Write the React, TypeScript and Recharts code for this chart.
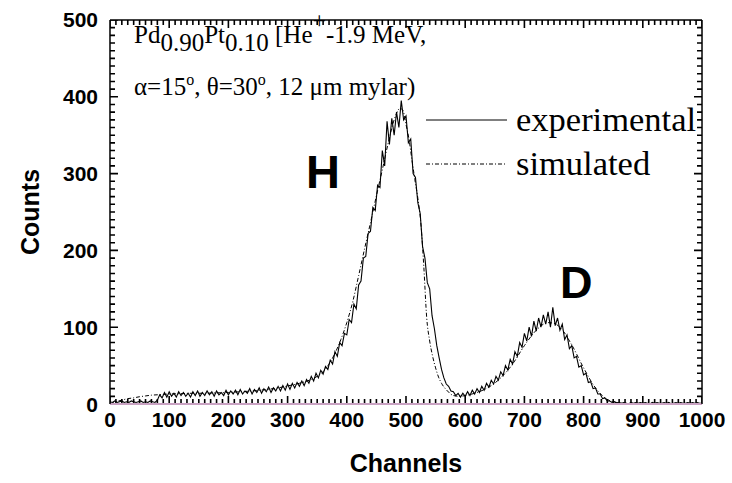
import React from 'react';
import { LineChart, Line, XAxis, YAxis, Customized } from 'recharts';

// ---- data ----
const expStartChannel = 0;
const expChannelStep = 4;
const experimentalCounts = [
  // 0 - 96
  3, 2, 4, 2, 3, 4, 2, 3, 2, 4, 3, 2, 3, 4, 2, 3, 2, 4, 3, 2, 5, 12, 8, 15, 9,
  // 100 - 196
  16, 10, 14, 9, 16, 11, 15, 10, 14, 9, 16, 11, 17, 10, 15, 11, 17, 12, 16, 10, 17, 12, 15, 11, 18,
  // 200 - 296
  12, 17, 13, 18, 12, 19, 13, 17, 14, 20, 13, 19, 15, 21, 14, 20, 16, 22, 15, 21, 17, 23, 17, 24, 18,
  // 300 - 396
  26, 19, 27, 21, 28, 23, 30, 24, 32, 27, 36, 30, 40, 34, 44, 39, 49, 45, 57, 52, 68, 62, 80, 76, 92,
  // 400 - 496
  90, 110, 106, 130, 124, 155, 160, 190, 192, 222, 225, 256, 252, 285, 282, 330, 310, 368, 338, 372, 350, 380, 360, 395, 370,
  // 500 - 596
  375, 340, 345, 300, 295, 262, 248, 205, 190, 158, 150, 115, 98, 76, 60, 45, 34, 26, 23, 17, 16, 11, 14, 9, 14,
  // 600 - 696
  10, 16, 11, 18, 13, 20, 15, 23, 18, 27, 22, 31, 26, 36, 31, 42, 37, 50, 44, 58, 52, 68, 62, 80, 74,
  // 700 - 796
  92, 82, 100, 88, 108, 95, 112, 100, 116, 104, 120, 100, 126, 102, 112, 96, 104, 84, 90, 72, 76, 60, 62, 48, 50,
  // 800 - 896
  38, 40, 28, 29, 20, 21, 13, 13, 7, 8, 4, 4, 2, 3, 1, 2, 1, 2, 1, 0, 2, 1, 2, 1, 2,
  // 900 - 996
  1, 2, 1, 0, 2, 1, 2, 1, 1, 2, 1, 2, 0, 1, 2, 1, 2, 1, 1, 2, 1, 2, 1, 2, 1,
  // 1000
  1,
];

const simulatedChannels = [
  0, 10, 20, 30, 40, 50, 60, 70, 80, 90, 100, 120, 140, 160, 180, 200, 220, 240, 260, 280,
  300, 320, 340, 350, 360, 370, 380, 390, 400, 410, 420, 430, 440, 450, 460, 470, 480, 490, 495, 500,
  505, 510, 515, 520, 525, 530, 535, 540, 545, 550, 555, 560, 570, 580, 590, 600, 620, 640, 660, 680,
  700, 720, 740, 750, 760, 780, 800, 820, 840, 860, 880, 900, 950, 1000,
];
const simulatedCounts = [
  0, 3, 5, 7, 8, 9.5, 10.5, 11.5, 12, 12.5, 13, 13.5, 14, 14, 14.5, 15, 16, 17, 18.5, 20.5,
  23.5, 27, 32, 36, 42, 52, 66, 84, 106, 133, 167, 202, 236, 271, 305, 340, 370, 385, 382, 364,
  345, 318, 292, 268, 236, 180, 112, 82, 62, 47, 35, 27, 17, 11, 10, 11, 15, 22, 34, 52,
  76, 96, 106, 105, 100, 77, 47, 21, 6, 1.5, 0.5, 0, 0, 0,
];

const xMajorTicks = [0, 100, 200, 300, 400, 500, 600, 700, 800, 900, 1000];
const yMajorTicks = [0, 100, 200, 300, 400, 500];
const xMinorStep = 10;
const yMinorStep = 10;

const expData = experimentalCounts.map((c, i) => ({ ch: expStartChannel + i * expChannelStep, counts: c }));
const simData = simulatedChannels.map((ch, i) => ({ ch, counts: simulatedCounts[i] }));

const xMinorTicks: number[] = [];
for (let v = 0; v <= 1000; v += xMinorStep) if (v % 100 !== 0) xMinorTicks.push(v);
const yMinorTicks: number[] = [];
for (let v = 0; v <= 500; v += yMinorStep) if (v % 100 !== 0) yMinorTicks.push(v);

// ---- layout ----
const W = 732;
const H = 483;
const PL = 110;
const PR = 702;
const PT = 20;
const PB = 404;
const THIN = 0.01; // tiny axis band so that Recharts still draws the axis
const X_MAX = 1000;
const Y_MAX = 500;
const PX_PER_CH = (PR - PL) / X_MAX;
const PX_PER_COUNT = (PB - PT) / Y_MAX;
const MAJOR_PX = 8;
const MINOR_PX = 5;

const SANS = '"Liberation Sans", Arial, Helvetica, sans-serif';
const SERIF = '"Liberation Serif", "Times New Roman", Times, serif';

// tick-mark segments (inward ticks on all four sides), drawn through the chart scales
type Pt = { ch: number; counts: number | null };
const tickSegments: Pt[] = [];
const pushX = (v: number, px: number) => {
  const len = px / PX_PER_COUNT;
  tickSegments.push({ ch: v, counts: 0 }, { ch: v, counts: len }, { ch: v, counts: null });
  tickSegments.push({ ch: v, counts: Y_MAX }, { ch: v, counts: Y_MAX - len }, { ch: v, counts: null });
};
const pushY = (v: number, px: number) => {
  const len = px / PX_PER_CH;
  tickSegments.push({ ch: 0, counts: v }, { ch: len, counts: v }, { ch: len, counts: null });
  tickSegments.push({ ch: X_MAX, counts: v }, { ch: X_MAX - len, counts: v }, { ch: X_MAX - len, counts: null });
};
xMajorTicks.forEach((v) => pushX(v, MAJOR_PX));
xMinorTicks.forEach((v) => pushX(v, MINOR_PX));
yMajorTicks.forEach((v) => pushY(v, MAJOR_PX));
yMinorTicks.forEach((v) => pushY(v, MINOR_PX));

const BottomLabel = (props: any) => {
  const { x, payload } = props;
  return (
    <text x={x} y={PB + 23} textAnchor="middle" fontFamily={SANS} fontWeight="bold" fontSize={21} fill="#000">
      {payload.value}
    </text>
  );
};

const LeftLabel = (props: any) => {
  const { y, payload } = props;
  return (
    <text x={PL - 12} y={y + 7.5} textAnchor="end" fontFamily={SANS} fontWeight="bold" fontSize={21} fill="#000">
      {payload.value}
    </text>
  );
};

const Overlay = () => (
  <g>
    <text x={134} y={43} fontFamily={SERIF} fontSize={25} fill="#000">
      Pd
      <tspan dy={8}>0.90</tspan>
      <tspan dy={-8}>Pt</tspan>
      <tspan dy={8}>0.10</tspan>
      <tspan dy={-8}> [He</tspan>
      <tspan dy={-15} fontSize={24}>+</tspan>
      <tspan dy={15}>-1.9 MeV,</tspan>
    </text>
    <text x={134} y={95} fontFamily={SERIF} fontSize={25} fill="#000">
      α=15<tspan dy={-10} fontSize={16}>o</tspan>
      <tspan dy={10}>, θ=30</tspan>
      <tspan dy={-10} fontSize={16}>o</tspan>
      <tspan dy={10}>, 12 μm mylar)</tspan>
    </text>
    <line x1={426} x2={507} y1={120} y2={120} stroke="#000" strokeWidth={1} />
    <text x={516} y={131} fontFamily={SERIF} fontSize={34.5} fill="#000">experimental</text>
    <line x1={426} x2={507} y1={164} y2={164} stroke="#000" strokeWidth={1} strokeDasharray="4 2 1 2" />
    <text x={516} y={175} fontFamily={SERIF} fontSize={34.5} fill="#000">simulated</text>
    <text x={306} y={188} fontFamily={SANS} fontWeight="bold" fontSize={47} fill="#000">H</text>
    <text x={560} y={298} fontFamily={SANS} fontWeight="bold" fontSize={45} fill="#000">D</text>
    <text x={406} y={472} textAnchor="middle" fontFamily={SANS} fontWeight="bold" fontSize={25} fill="#000">Channels</text>
    <text
      x={0}
      y={0}
      transform="translate(39,212) rotate(-90)"
      textAnchor="middle"
      fontFamily={SANS}
      fontWeight="bold"
      fontSize={25}
      fill="#000"
    >
      Counts
    </text>
  </g>
);

export default function App() {
  return (
    <div style={{ position: 'absolute', left: 0, top: 0, width: W, height: H, background: '#fff' }}>
      <LineChart
        width={W}
        height={H}
        margin={{ top: PT - THIN, right: W - PR - THIN, bottom: H - PB - THIN, left: PL - THIN }}
      >
        <XAxis
          xAxisId="bottom"
          type="number"
          dataKey="ch"
          domain={[0, X_MAX]}
          ticks={xMajorTicks}
          interval={0}
          orientation="bottom"
          height={THIN}
          mirror
          tickSize={0}
          tickMargin={0}
          tickLine={false}
          tick={BottomLabel}
          axisLine={{ stroke: '#c9a2c2', strokeWidth: 2 }}
          allowDataOverflow
        />
        <XAxis
          xAxisId="top"
          type="number"
          domain={[0, X_MAX]}
          ticks={xMajorTicks}
          interval={0}
          orientation="top"
          height={THIN}
          mirror
          tickSize={0}
          tickLine={false}
          tick={false}
          axisLine={{ stroke: '#000', strokeWidth: 1.5 }}
          allowDataOverflow
        />
        <YAxis
          yAxisId="left"
          type="number"
          domain={[0, Y_MAX]}
          ticks={yMajorTicks}
          interval={0}
          orientation="left"
          width={THIN}
          mirror
          tickSize={0}
          tickMargin={0}
          tickLine={false}
          tick={LeftLabel}
          axisLine={{ stroke: '#000', strokeWidth: 1.5 }}
          allowDataOverflow
        />
        <YAxis
          yAxisId="right"
          type="number"
          domain={[0, Y_MAX]}
          ticks={yMajorTicks}
          interval={0}
          orientation="right"
          width={THIN}
          mirror
          tickSize={0}
          tickLine={false}
          tick={false}
          axisLine={{ stroke: '#000', strokeWidth: 1.5 }}
          allowDataOverflow
        />
        <Line
          xAxisId="bottom"
          yAxisId="left"
          data={tickSegments}
          dataKey="counts"
          type="linear"
          stroke="#000"
          strokeWidth={1.6}
          dot={false}
          connectNulls={false}
          legendType="none"
          isAnimationActive={false}
        />
        <Line
          xAxisId="bottom"
          yAxisId="left"
          data={simData}
          dataKey="counts"
          type="monotone"
          stroke="#000"
          strokeWidth={1}
          strokeDasharray="4 2 1 2"
          dot={false}
          isAnimationActive={false}
        />
        <Line
          xAxisId="bottom"
          yAxisId="left"
          data={expData}
          dataKey="counts"
          type="linear"
          stroke="#000"
          strokeWidth={1.1}
          dot={false}
          isAnimationActive={false}
        />
        <Customized component={Overlay} />
      </LineChart>
    </div>
  );
}
